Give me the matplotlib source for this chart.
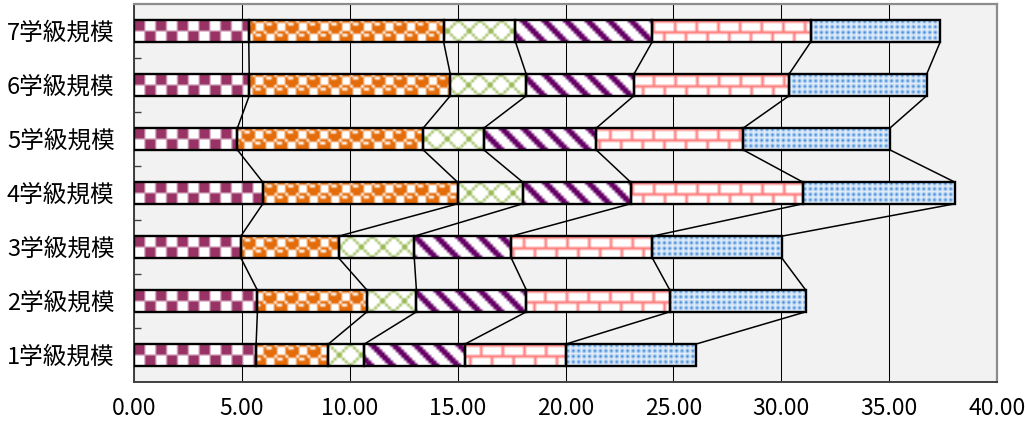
import numpy as np
import matplotlib
matplotlib.use("Agg")
from matplotlib import pyplot as plt

plt.rcParams["font.family"] = ["Noto Sans CJK JP", "DejaVu Sans"]

# bottom row first
categories = ["1学級規模", "2学級規模", "3学級規模", "4学級規模",
              "5学級規模", "6学級規模", "7学級規模"]
series_1 = [5.66, 5.72, 4.95, 5.97, 4.79, 5.34, 5.32]
series_2 = [3.34, 5.08, 4.53, 9.03, 8.61, 9.32, 9.03]
series_3 = [1.67, 2.29, 3.51, 3.02, 2.81, 3.52, 3.33]
series_4 = [4.66, 5.10, 4.49, 5.00, 5.21, 4.99, 6.34]
series_5 = [4.67, 6.65, 6.54, 7.99, 6.81, 7.19, 7.35]
series_6 = [6.03, 6.30, 6.00, 7.04, 6.80, 6.38, 6.00]
x_ticks = [0, 5, 10, 15, 20, 25, 30, 35, 40]

# 8x8 fill patterns (excel style): bits, foreground, background
patterns = [
    ([0xF0, 0xF0, 0xF0, 0xF0, 0x0F, 0x0F, 0x0F, 0x0F], "#993366", "white"),  # checker
    ([0x77, 0x98, 0xF8, 0xF8, 0x77, 0x89, 0x8F, 0x8F], "#e46c0a", "white"),  # sphere
    ([0x81, 0x42, 0x24, 0x18, 0x18, 0x24, 0x42, 0x81], "#9bbb59", "white"),  # cross
    ([0xC1, 0xE0, 0x70, 0x38, 0x1C, 0x0E, 0x07, 0x83], "#660066", "white"),  # wide diag
    ([0xFF, 0x80, 0x80, 0x80, 0xFF, 0x08, 0x08, 0x08], "#ff8080", "white"),  # brick
    ([0xAA, 0x00, 0xAA, 0x00, 0xAA, 0x00, 0xAA, 0x00], "#2f7fd6", "#e3eefa"),  # dots
]

BAR_H = 0.4
TILE_PX = 21.6


def tile_mask(rows):
    return np.array([[(b >> (7 - i)) & 1 for i in range(8)] for b in rows], dtype=bool)


def fill_bar(ax, patch, rows, fg, bg, cell_x):
    x0, y0 = patch.get_x(), patch.get_y()
    w, h = patch.get_width(), patch.get_height()
    start = int(np.floor(x0 / cell_x))
    end = int(np.ceil((x0 + w) / cell_x))
    tile = tile_mask(rows)
    cols = np.arange(start, end) % 8
    mask = tile[:, cols]
    fg = np.array(matplotlib.colors.to_rgb(fg))
    bg = np.array(matplotlib.colors.to_rgb(bg))
    rgb = np.where(mask[..., None], fg, bg)
    im = ax.imshow(rgb, extent=(start * cell_x, end * cell_x, y0, y0 + h),
                   origin="upper", aspect="auto", interpolation="bilinear", zorder=3)
    im.set_clip_path(patch)


def plot_bars():
    fig = plt.figure(figsize=(10.25, 4.23), dpi=100)
    ax = fig.add_axes([134 / 1025, 1 - 382 / 423, 863 / 1025, 378 / 423])
    ax.set_facecolor("#f2f2f2")

    data = [series_1, series_2, series_3, series_4, series_5, series_6]
    y = np.arange(len(categories))
    px_per_unit = 863 / 40
    cell_x = TILE_PX / 8 / px_per_unit

    left = np.zeros(len(categories))
    ends = []
    for values, (rows, fg, bg) in zip(data, patterns):
        bars = ax.barh(y, values, left=left, height=BAR_H, facecolor="none",
                       edgecolor="black", linewidth=1.7, zorder=4)
        for patch in bars.patches:
            fill_bar(ax, patch, rows, fg, bg, cell_x)
        left = left + np.array(values)
        ends.append(left.copy())

    # series lines between neighbouring bars
    for cum in ends:
        for k in range(1, len(categories)):
            ax.plot([cum[k], cum[k - 1]], [k - BAR_H / 2, k - 1 + BAR_H / 2],
                    color="black", lw=1.1, zorder=2)

    ax.set_xlim(0, 40)
    ax.set_ylim(-0.5, len(categories) - 0.5)
    ax.set_xticks(x_ticks)
    ax.set_xticklabels([f"{v:.2f}" for v in x_ticks])
    ax.set_yticks(y)
    ax.set_yticklabels(categories)
    ax.set_yticks(np.arange(0.5, len(categories) - 1, 1.0), minor=True)
    ax.tick_params(axis="y", which="major", length=0, pad=14, labelsize=17)
    ax.tick_params(axis="y", which="minor", direction="in", length=5, width=1, color="#404040")
    ax.tick_params(axis="x", length=0, pad=11, labelsize=16.5)

    ax.grid(axis="x", color="black", lw=0.75, zorder=1)
    ax.set_axisbelow(True)

    for side in ("top", "right"):
        ax.spines[side].set_color("#8c8c8c")
        ax.spines[side].set_linewidth(1.6)
    for side in ("left", "bottom"):
        ax.spines[side].set_color("#404040")
        ax.spines[side].set_linewidth(1.4)

    fig.savefig("out.png", dpi=100)


if __name__ == "__main__":
    plot_bars()
